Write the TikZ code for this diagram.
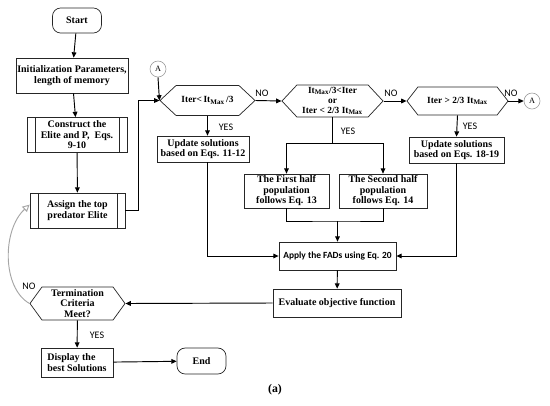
\documentclass[tikz,border=0pt]{standalone}
\usepackage{fontspec}
\setmainfont{Liberation Serif}
\newfontfamily\calibri{Carlito}
\usepackage{tikz}
\usetikzlibrary{arrows.meta,positioning,shapes.symbols}

\begin{document}
\begin{tikzpicture}[x=0.85pt,y=-0.85pt,
    box/.style={draw=black!85, line width=0.6pt, fill=white, align=center, inner sep=1pt,
        font=\fontsize{8.5}{8.9}\selectfont\bfseries},
    roundbox/.style={box, rounded corners=7pt},
    procbox/.style={box, path picture={
        \draw[black!85, line width=0.6pt]
            ([xshift=6.8pt]path picture bounding box.north west) -- ([xshift=6.8pt]path picture bounding box.south west)
            ([xshift=-6.8pt]path picture bounding box.north east) -- ([xshift=-6.8pt]path picture bounding box.south east);}},
    hexbox/.style={box, signal, signal to=east and west, signal pointer angle=94, inner xsep=0pt,
        font=\fontsize{8}{8.6}\selectfont\bfseries},
    conn/.style={circle, draw=black!40, line width=0.5pt, minimum size=13.6pt, inner sep=0pt,
        font=\fontsize{7}{8}\selectfont},
    arr/.style={-{Triangle[length=4.5pt,width=4pt]}, line width=0.8pt},
    lbl/.style={font=\calibri\fontsize{8.5}{9}\selectfont},
    back/.style={-{Triangle[open,length=6pt,width=6pt]}, draw=black!35, line width=0.8pt},
]
            \useasboundingbox (0,0) rectangle (550,405);

            % left column
            \node[roundbox, minimum width=41.7pt, minimum height=21.3pt] (start) at (77,20.5) {Start};
            \node[box, minimum width=93.5pt, minimum height=29.8pt] (init) at (72,75.5) {Initialization Parameters,\\length of memory};
            \node[procbox, minimum width=85pt, minimum height=29.8pt] (elite) at (77,135) {Construct the\\Elite and P,~ Eqs.\\9-10};
            \node[procbox, minimum width=80.8pt, minimum height=29.8pt] (assign) at (77.5,210.5) {Assign the top\\predator Elite};

            % the three checks
            \node[hexbox, signal pointer angle=86, minimum width=80.8pt, minimum height=25.5pt] (hexA) at (207.5,100.5) {Iter<\,It\textsubscript{Max}\,/3};
            \node[hexbox, minimum width=85.9pt, minimum height=27.2pt] (hexB) at (332.5,101) {It\textsubscript{Max}/3<Iter\\or\\Iter < 2/3 It\textsubscript{Max}};
            \node[hexbox, signal pointer angle=104, minimum width=85.9pt, minimum height=23.8pt] (hexC) at (457.5,101) {Iter > 2/3 It\textsubscript{Max}};
            \node[conn] (a1) at (158,69) {A};
            \node[conn] (a2) at (532,101) {A};

            % updates
            \node[box, minimum width=78.2pt, minimum height=22.1pt] (upd1) at (203,149) {Update solutions\\based on Eqs. 11-12};
            \node[box, minimum width=80.8pt, minimum height=22.1pt] (upd3) at (456.5,150) {Update solutions\\based on Eqs. 18-19};
            \node[box, minimum width=72.3pt, minimum height=28.9pt] (half1) at (286.5,191) {The First half\\population\\follows Eq. 13};
            \node[box, minimum width=74.8pt, minimum height=28.9pt] (half2) at (383,191) {The Second half\\population\\follows Eq. 14};
            \node[box, font=\calibri\fontsize{8}{9}\selectfont\bfseries, minimum width=99.5pt, minimum height=23.8pt] (apply) at (337.5,256) {Apply the FADs using Eq. 20};
            \node[box, minimum width=108.8pt, minimum height=23.8pt] (eval) at (337,303) {Evaluate objective function};

            % end part
            \node[hexbox, signal pointer angle=108, font=\fontsize{8.5}{8.9}\selectfont\bfseries, minimum width=80.8pt, minimum height=28pt] (stop) at (77.5,303.5) {Termination\\Criteria\\Meet?};
            \node[box, align=left, minimum width=61.2pt, minimum height=24.7pt] (disp) at (77,362.5) {Display the\\best Solutions};
            \node[roundbox, minimum width=41.7pt, minimum height=22.1pt] (end) at (201.5,361) {End};
            \node[font=\fontsize{10}{12}\selectfont\bfseries] (cap) at (275,390) {(a)};

            % YES / NO
            \node[lbl] (no1) at (262,93) {NO};
            \node[lbl] (no2) at (391,93) {NO};
            \node[lbl] (no3) at (511,93) {NO};
            \node[lbl] (no4) at (29,286) {NO};
            \node[lbl] (yes1) at (226,127) {YES};
            \node[lbl] (yes2) at (348,131) {YES};
            \node[lbl] (yes3) at (470,126) {YES};
            \node[lbl] (yes4) at (97,335) {YES};

            \coordinate (j1) at (138,100.5);
            \coordinate (split) at (332.5,143);
            \coordinate (merge) at (337.5,221);

            \draw[arr] (start) -- (init);
            \draw[arr] (init) -- (elite);
            \draw[arr] (elite) -- (assign);
            \draw[arr] (assign.east) -| (j1) -- (hexA.west);
            \draw[arr] (a1.south) -- (hexA.west);
            \draw[arr] (hexA.east) -- (hexB.west);
            \draw[arr] (hexB.east) -- (hexC.west);
            \draw[arr] (hexC.east) -- (a2.west);
            \draw[arr] (hexA.south) -- (hexA.south |- upd1.north);
            \draw[arr] (hexC.south) -- (upd3.north);
            \draw[line width=0.8pt] (hexB.south) -- (split);
            \draw[arr] (split) -| (half1.north);
            \draw[arr] (split) -| (half2.north);
            \draw[line width=0.8pt] (half1.south) |- (merge) -| (half2.south);
            \draw[arr] (merge) -- (apply.north);
            \draw[arr] (hexA.south |- upd1.south) |- (apply.west);
            \draw[arr] (upd3.south) |- (apply.east);
            \draw[arr] (apply) -- (eval);
            \draw[arr] (eval.west) -- (stop.east);
            \draw[arr] (stop) -- (disp);
            \draw[arr] (disp) -- (end);
            \draw[back] (stop.west) .. controls (2,288) and (2,230) .. ([yshift=5pt]assign.west);
\end{tikzpicture}
\end{document}
